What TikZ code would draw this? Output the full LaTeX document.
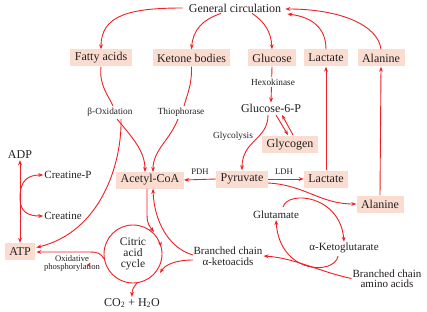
\documentclass[tikz,border=0pt]{standalone}
\usepackage{fontspec}
\setmainfont{Liberation Serif}
\usetikzlibrary{arrows.meta,decorations.markings,calc}
\definecolor{lnred}{RGB}{238,32,36}
\definecolor{boxfill}{RGB}{250,221,208}
\definecolor{txt}{RGB}{35,31,32}
\begin{document}
\begin{tikzpicture}[x=1pt,y=-1pt,
  line/.style={draw=lnred,line width=0.9pt},
  arr/.style={line,-{Stealth[length=5pt,width=3.8pt]}},
  dblarr/.style={line,{Stealth[length=5pt,width=3.8pt]}-{Stealth[length=5pt,width=3.8pt]}},
  boxnode/.style={fill=boxfill,text=txt,font=\fontsize{12}{14}\selectfont,inner xsep=4.5pt,inner ysep=0pt,minimum height=17pt},
  big/.style={text=txt,font=\fontsize{12}{14}\selectfont,inner sep=1pt},
  mid/.style={text=txt,font=\fontsize{11}{10.5}\selectfont,inner sep=1pt,align=center},
  small/.style={text=txt,font=\fontsize{9.3}{10}\selectfont,inner sep=1pt,align=center},
  tiny/.style={text=txt,font=\fontsize{8.6}{8}\selectfont,inner sep=1pt,align=center}]
\useasboundingbox (0,0) rectangle (427,312);
% nodes
\node[big] (gc) at (235,8) {General circulation};
\node[boxnode] (fa) at (101,58) {Fatty acids};
\node[boxnode] (kb) at (191.5,58) {Ketone bodies};
\node[boxnode] (glc) at (272,58) {Glucose};
\node[boxnode] (lac1) at (326,58) {Lactate};
\node[boxnode] (ala1) at (381,58) {Alanine};
\node[big] (g6p) at (271,108) {Glucose-6-P};
\node[small] (glyl) at (233,136) {Glycolysis};
\node[boxnode] (gly) at (290,145) {Glycogen};
\node[small] (box) at (110,112) {β-Oxidation};
\node[small] (thio) at (181,112) {Thiophorase};
\node[big] (adp) at (20,155) {ADP};
\node[boxnode] (acoa) at (150,180) {Acetyl-CoA};
\node[tiny] (pdh) at (200,172) {PDH};
\node[boxnode] (pyr) at (242,179) {Pyruvate};
\node[tiny] (ldh) at (284,172) {LDH};
\node[boxnode] (lac2) at (326,179) {Lactate};
\node[boxnode] (ala2) at (380,204) {Alanine};
\node[mid] (glu) at (276,215) {Glutamate};
\node[mid] (akg) at (344,248) {α-Ketoglutarate};
\node[mid] (bcka) at (228,256) {Branched chain\\α-ketoacids};
\node[mid] (bcaa) at (387,278.5) {Branched chain\\amino acids};
\node[mid] (crp) at (68,175) {Creatine-P};
\node[mid] (cr) at (63,216) {Creatine};
\node[boxnode] (atp) at (20,251.5) {ATP};
\node[tiny] (oxp) at (72,263) {Oxidative\\phosphorylation};
\node[mid,font=\fontsize{11.5}{11}\selectfont] (tcat) at (133,254) {Citric\\acid\\cycle};
\node[big] (co2) at (132,303) {CO\textsubscript{2} + H\textsubscript{2}O};
% general circulation
\draw[arr] ($(gc.west)+(-5,0)$) .. controls (130,8) and (101,15) .. (fa.north);
\draw[arr] ($(gc.south)+(-14,0)$) .. controls (202,20) and (193,30) .. (kb.north);
\draw[arr] ($(gc.south)+(17,0)$) .. controls (265,22) and (271,32) .. (glc.north);
\draw[arr] (lac1.north) .. controls (326,28) and (312,17) .. ($(gc.east)+(5,6)$);
\draw[arr] (ala1.north) .. controls (378,25) and (340,9) .. ($(gc.east)+(3,1)$);
% glucose
\draw[arr] (glc.south) -- (g6p.north);
\node[small,fill=white,inner ysep=2pt] (hex) at (273,82) {Hexokinase};
\draw[arr] (276,115) -- (288,135);
\draw[arr] (293,135) -- (282,115);
\draw[arr] (268,115) .. controls (268,140) and (242,140) .. (pyr.north);
% fatty acids, ketone bodies
\draw[line] (fa.south) .. controls (99,85) and (108,95) .. (113,106);
\draw[arr] (117,119) .. controls (130,135) and (145,150) .. (145,172);
\draw[arr] (121,119) .. controls (122,165) and (100,232) .. ($(atp.east)+(1,-4)$);
\draw[line] (kb.south) .. controls (192,85) and (187,95) .. (184,106);
\draw[arr] (178,119) .. controls (170,140) and (153,150) .. (153,172);
% pyruvate
\draw[arr] (pyr.west) -- (acoa.east);
\draw[arr] (pyr.east) -- (lac2.west);
\draw[arr] (lac2.north) -- (lac1.south);
\draw[arr] (ala2.north) -- (ala1.south);
\draw[arr] ($(pyr.east)+(0,4)$) .. controls (305,185) and (320,204) .. (ala2.west);
% transamination loop
\draw[arr] (283,207) .. controls (288,190) and (340,195) .. (akg.north);
\draw[arr] (338,256) .. controls (335,275) and (280,275) .. (glu.south);
\draw[arr] (bcaa.west) .. controls (320,272) and (295,258) .. (bcka.east);
% branched chain ketoacids
\draw[arr] (193,255) .. controls (168,248) and (154,220) .. ($(acoa.south)+(3,0)$);
\draw[arr] (193,260) .. controls (175,260) and (165,265) .. (160,273);
% TCA
\draw[line,postaction={decorate},decoration={markings,
  mark=at position 0.96 with {\arrow{Stealth[length=5pt,width=3.8pt]}},
  mark=at position 0.42 with {\arrow{Stealth[length=5pt,width=3.8pt]}}}]
  (tcat.center) circle (29);
\draw[arr] ($(acoa.south)+(-3,0)$) -- (147,215) .. controls (147,224) and (150,227) .. (154,232);
\draw[arr] (137,283) .. controls (134,287) and (132,289) .. (co2.north);
\draw[arr] (104,259) .. controls (101,253) and (97,252) .. (90,252) -- ($(atp.east)+(1,0.5)$);
% ADP / ATP
\draw[dblarr] (adp.south) -- (atp.north);
\draw[arr] (20,198) .. controls (20,180) and (28,175) .. (crp.west);
\draw[arr] (20,198) .. controls (20,212) and (28,216) .. (cr.west);
\end{tikzpicture}
\end{document}
